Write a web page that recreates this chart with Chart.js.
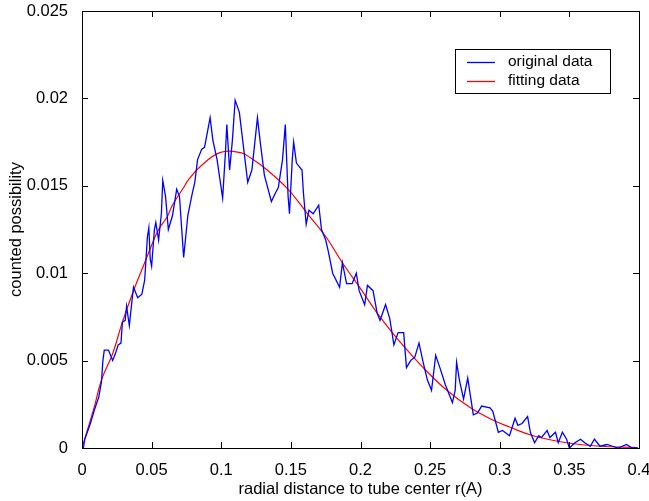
<!DOCTYPE html>
<html>
<head>
<meta charset="utf-8">
<script src="https://cdn.jsdelivr.net/npm/chart.js@4/dist/chart.umd.min.js"></script>
<style>
  html, body { margin: 0; padding: 0; background: #fff; }
  #wrap { width: 649px; height: 501px; }
</style>
</head>
<body>
<div id="wrap"><canvas id="chartRadial" width="649" height="501"></canvas></div>
<script>
// measured distribution
const rOriginal = [0.001,0.002,0.006,0.009,0.012,0.014,0.015,0.016,0.019,0.022,0.024,0.026,0.028,0.029,0.031,0.032,0.034,0.036,0.037,0.040,
  0.043,0.045,0.047,0.048,0.049,0.050,0.052,0.053,0.055,0.057,0.058,0.060,0.062,0.065,0.068,0.070,0.073,0.076,0.079,0.081,
  0.083,0.086,0.088,0.092,0.094,0.097,0.101,0.103,0.104,0.106,0.108,0.110,0.113,0.116,0.119,0.122,0.126,0.128,0.131,0.136,
  0.139,0.141,0.144,0.146,0.148,0.149,0.151,0.152,0.154,0.158,0.159,0.161,0.163,0.166,0.170,0.172,0.175,0.177,0.180,0.185,
  0.187,0.190,0.194,0.197,0.199,0.203,0.205,0.209,0.212,0.214,0.218,0.221,0.224,0.227,0.231,0.233,0.236,0.239,0.242,0.245,
  0.248,0.251,0.254,0.257,0.261,0.266,0.268,0.269,0.271,0.274,0.277,0.281,0.284,0.287,0.293,0.295,0.299,0.302,0.307,0.311,
  0.313,0.316,0.320,0.322,0.325,0.328,0.330,0.334,0.336,0.340,0.342,0.345,0.348,0.350,0.354,0.358,0.361,0.365,0.368,0.372,
  0.377,0.381,0.385,0.391,0.395,0.399]
const pOriginal = [0,0.0005,0.0014,0.0022,0.0029,0.0038,0.0050,0.0056,0.0056,0.0050,0.0054,0.0059,0.0060,0.0072,0.0073,0.0081,0.0070,0.0085,0.0092,0.0086,
  0.0088,0.0096,0.0121,0.0126,0.0108,0.0104,0.0125,0.0129,0.0119,0.0134,0.0153,0.0144,0.0125,0.0133,0.0148,0.0144,0.0109,0.0133,0.0145,0.0152,
  0.0165,0.0171,0.0172,0.0189,0.0176,0.0165,0.0143,0.0169,0.0185,0.0159,0.0176,0.0199,0.0192,0.0172,0.0152,0.0159,0.0189,0.0175,0.0156,0.0141,
  0.0146,0.0149,0.0165,0.0185,0.0144,0.0134,0.0165,0.0175,0.0163,0.0159,0.0146,0.0128,0.0136,0.0134,0.0139,0.0125,0.0119,0.0112,0.0100,0.0092,
  0.0106,0.0094,0.0094,0.0100,0.0090,0.0082,0.0093,0.0090,0.0077,0.0073,0.0082,0.0074,0.0059,0.0066,0.0066,0.0046,0.0050,0.0052,0.0060,0.0049,
  0.0039,0.0033,0.0053,0.0046,0.0036,0.0026,0.0033,0.0049,0.0039,0.0028,0.0040,0.0019,0.0020,0.0024,0.0023,0.0021,0.0009,0.0010,0.0007,0.0017,
  0.0013,0.0014,0.0018,0.0009,0.0003,0.0007,0.0006,0.0010,0.0006,0.0009,0.0003,0.0009,0.0005,0,0.0003,0.0005,0.0003,0.0001,0.0005,0.0001,
  0.0002,0.0001,0,0.0002,0,0]

// fitted curve
const rFitting = [0,0.009,0.014,0.022,0.029,0.037,0.045,0.050,0.055,0.061,0.065,0.073,0.076,0.085,0.099,0.114,0.121,0.133,0.148,0.162,
  0.175,0.187,0.201,0.214,0.227,0.245,0.262,0.279,0.295,0.307,0.324,0.348,0.372,0.399]
const pFitting = [0,0.0024,0.0039,0.0054,0.0072,0.0090,0.0106,0.0116,0.0125,0.0132,0.0139,0.0149,0.0153,0.0161,0.0169,0.0169,0.0166,0.0159,0.0148,0.0134,
  0.0121,0.0106,0.0090,0.0075,0.0062,0.0046,0.0033,0.0023,0.0016,0.0012,0.0007,0.0003,0.0001,0.00003]

const xTicks = [0, 0.05, 0.1, 0.15, 0.2, 0.25, 0.3, 0.35, 0.4]
const xTickLabels = ['0', '0.05', '0.1', '0.15', '0.2', '0.25', '0.3', '0.35', '0.4']
const yTicks = [0, 0.005, 0.01, 0.015, 0.02, 0.025]
const yTickLabels = ['0', '0.005', '0.01', '0.015', '0.02', '0.025']

const seriesNames = ['original data', 'fitting data']
const FONT = 'Liberation Sans, Arial, sans-serif'
const FONT_SIZE = 16.5

const toPoints = (xs, ys) => xs.map((x, i) => ({ x, y: ys[i] }))

// box around the plot plus inward ticks on all four sides
const frame = {
  id: 'frame',
  afterDatasetsDraw(chart) {
    const { ctx, chartArea: a, scales } = chart
    const len = 6
    ctx.save()
    ctx.strokeStyle = '#000'
    ctx.lineWidth = 1
    ctx.beginPath()
    xTicks.forEach(v => {
      const px = Math.round(scales.x.getPixelForValue(v)) + 0.5
      ctx.moveTo(px, a.bottom); ctx.lineTo(px, a.bottom - len)
      ctx.moveTo(px, a.top); ctx.lineTo(px, a.top + len)
    })
    yTicks.forEach(v => {
      const py = Math.round(scales.y.getPixelForValue(v)) + 0.5
      ctx.moveTo(a.left, py); ctx.lineTo(a.left + len, py)
      ctx.moveTo(a.right, py); ctx.lineTo(a.right - len, py)
    })
    ctx.stroke()
    ctx.strokeRect(Math.round(a.left) + 0.5, Math.round(a.top) + 0.5,
      Math.round(a.right - a.left), Math.round(a.bottom - a.top))
    ctx.restore()
  }
}

// legend box in the upper right of the axes
const boxLegend = {
  id: 'boxLegend',
  afterDraw(chart) {
    const { ctx } = chart
    const x0 = 455, y0 = 49, w = 155, h = 44
    ctx.save()
    ctx.fillStyle = '#fff'
    ctx.fillRect(x0, y0, w, h)
    ctx.strokeStyle = '#000'
    ctx.lineWidth = 1
    ctx.strokeRect(x0 + 0.5, y0 + 0.5, w, h)
    ctx.font = '15.5px ' + FONT
    ctx.textBaseline = 'middle'
    chart.data.datasets.forEach((ds, i) => {
      const y = y0 + 13 + i * 19
      ctx.strokeStyle = ds.borderColor
      ctx.lineWidth = 1.3
      ctx.beginPath()
      ctx.moveTo(x0 + 12, y + 0.5)
      ctx.lineTo(x0 + 40, y + 0.5)
      ctx.stroke()
      ctx.fillStyle = '#000'
      ctx.fillText(ds.label, x0 + 53, y)
    })
    ctx.restore()
  }
}

const chartRadial = new Chart(document.getElementById('chartRadial').getContext('2d'), {
  type: 'scatter',
  data: {
    datasets: [
      {
        label: seriesNames[0],
        data: toPoints(rOriginal, pOriginal),
        showLine: true,
        borderColor: '#0000ff',
        borderWidth: 1.3,
        pointRadius: 0,
        tension: 0
      },
      {
        label: seriesNames[1],
        data: toPoints(rFitting, pFitting),
        showLine: true,
        borderColor: '#ff0000',
        borderWidth: 1.2,
        pointRadius: 0,
        tension: 0.4
      }
    ]
  },
  options: {
    responsive: false,
    animation: false,
    layout: { padding: { top: 11, right: 10, left: 7, bottom: 0 } },
    plugins: {
      legend: { display: false },
      tooltip: { enabled: false }
    },
    scales: {
      x: {
        type: 'linear',
        min: 0,
        max: 0.4,
        afterBuildTicks: s => { s.ticks = xTicks.map(value => ({ value })) },
        afterFit: s => { s.height = 53; s.paddingLeft = 0; s.paddingRight = 0 },
        grid: { display: false },
        border: { display: false },
        ticks: {
          color: '#000',
          padding: 5,
          maxRotation: 0,
          autoSkip: false,
          font: { family: FONT, size: FONT_SIZE },
          callback: (v, i) => xTickLabels[i]
        },
        title: {
          display: true,
          text: 'radial distance to tube center r(A)',
          color: '#000',
          padding: { top: 0, bottom: 2 },
          font: { family: FONT, size: FONT_SIZE }
        }
      },
      y: {
        min: 0,
        max: 0.025,
        afterBuildTicks: s => { s.ticks = yTicks.map(value => ({ value })) },
        afterFit: s => { s.width = 75; s.paddingTop = 0; s.paddingBottom = 0 },
        grid: { display: false },
        border: { display: false },
        ticks: {
          color: '#000',
          padding: 6,
          autoSkip: false,
          font: { family: FONT, size: FONT_SIZE },
          callback: (v, i) => yTickLabels[i]
        },
        title: {
          display: true,
          text: 'counted possibility',
          color: '#000',
          padding: { top: 0, bottom: 0 },
          font: { family: FONT, size: FONT_SIZE }
        }
      }
    }
  },
  plugins: [frame, boxLegend]
})
</script>
</body>
</html>
